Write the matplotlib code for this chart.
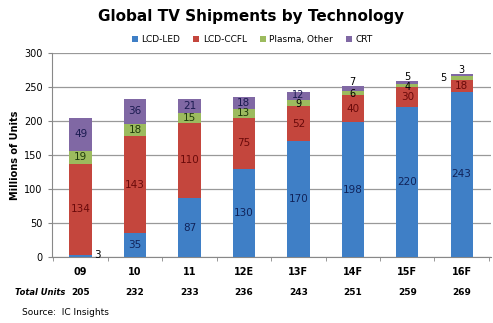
import numpy as np
import matplotlib.pyplot as plt

# data
years = ['09', '10', '11', '12E', '13F', '14F', '15F', '16F']
lcd_led = [3, 35, 87, 130, 170, 198, 220, 243]
lcd_ccfl = [134, 143, 110, 75, 52, 40, 30, 18]
plasma = [19, 18, 15, 13, 9, 6, 4, 5]
crt = [49, 36, 21, 18, 12, 7, 5, 3]
totals = [205, 232, 233, 236, 243, 251, 259, 269]

series = [('LCD-LED', lcd_led, '#3f7fc6', '#10235a'),
          ('LCD-CCFL', lcd_ccfl, '#c4463d', '#6a0a0a'),
          ('Plasma, Other', plasma, '#9cbb5e', '#1e3a0a'),
          ('CRT', crt, '#8068a4', '#1a1a50')]

fig = plt.figure(figsize=(4.93, 3.23), dpi=100)
ax = fig.add_axes([0.105, 0.204, 0.89, 0.632])

x = np.arange(len(years))
w = 0.41
bottom = np.zeros(len(years))
for name, vals, col, tcol in series:
    vals = np.array(vals)
    ax.bar(x, vals, w, bottom=bottom, color=col, label=name, zorder=3)
    for i, v in enumerate(vals):
        cx, cy, ha = x[i], bottom[i] + v / 2, 'center'
        c = tcol
        if name == 'LCD-LED' and i == 0:
            cx, cy, ha, c = x[i] + w / 2 + 0.05, 3, 'left', 'black'
        elif name == 'CRT' and i >= 5:
            cy, c = bottom[i] + v + 6, 'black'
        elif name == 'CRT' and i == 4:
            cy += 1.5
        elif name == 'Plasma, Other' and i == 7:
            cx, ha, c = x[i] - w / 2 - 0.08, 'right', 'black'
        elif name == 'Plasma, Other' and i >= 4:
            cy, c = cy - 2, 'black'
        fs = 7 if (name in ('CRT', 'Plasma, Other') and i >= 4) else 7.5
        ax.text(cx, cy, str(v), ha=ha, va='center', fontsize=fs, color=c, zorder=4)
    bottom += vals

ax.set_ylim(0, 300)
ax.set_xlim(-0.53, len(years) - 0.47)
ax.set_yticks(range(0, 301, 50))
ax.set_xticks(x)
ax.set_xticklabels(years, fontsize=7, fontweight='bold')
ax.tick_params(axis='y', labelsize=7, length=3, color='#888888')
ax.tick_params(axis='x', length=0, pad=7)
ax.set_xticks(np.arange(len(years) + 1) - 0.5, minor=True)
ax.tick_params(axis='x', which='minor', length=3, color='#888888')
ax.grid(axis='y', color='#999999', linewidth=0.9, zorder=0)
for s in ['top', 'right']:
    ax.spines[s].set_visible(False)
for s in ['left', 'bottom']:
    ax.spines[s].set_color('#888888')
ax.set_ylabel('Millions of Units', fontsize=7, fontweight='bold', labelpad=3)

fig.text(0.51, 0.95, 'Global TV Shipments by Technology', ha='center', va='center',
         fontsize=11, fontweight='bold')
ax.legend(loc='lower center', bbox_to_anchor=(0.457, 1.0), ncol=4, frameon=False,
          fontsize=6.5, handlelength=0.7, handleheight=0.7, columnspacing=1.4,
          handletextpad=0.4, borderaxespad=0.6)

fig.text(0.03, 0.093, 'Total Units', fontsize=6, fontweight='bold', style='italic', va='center')
for i, t in enumerate(totals):
    xd = ax.transData.transform((x[i], 0))[0] / fig.bbox.width
    fig.text(xd, 0.093, str(t), ha='center', va='center', fontsize=6.5, fontweight='bold')
fig.text(0.045, 0.031, 'Source:  IC Insights', fontsize=6.5, va='center')

fig.savefig('out.png', dpi=100)
